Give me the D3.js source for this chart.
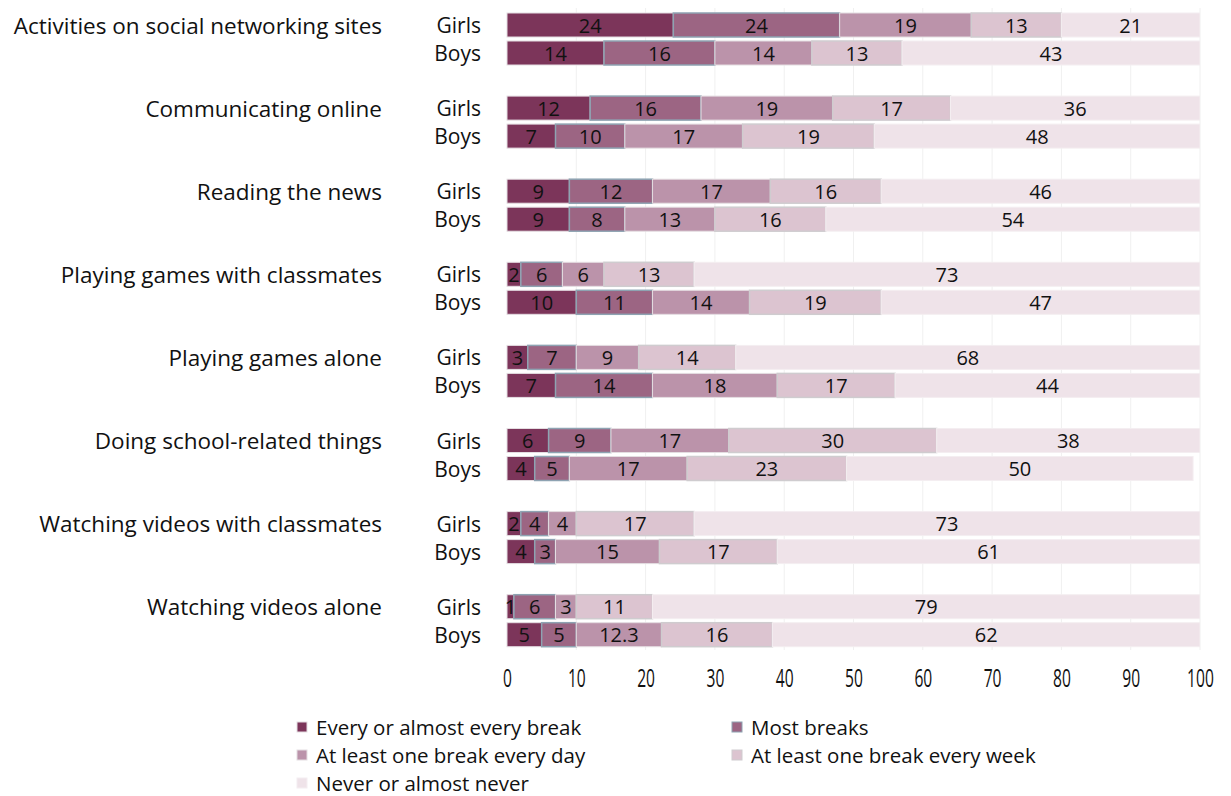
<!DOCTYPE html>
<html>
<head>
<meta charset="utf-8">
<script src="https://cdn.jsdelivr.net/npm/d3@7"></script>
<style>
  html, body { margin: 0; padding: 0; background: #fff; }
  svg { display: block; font-family: "Open Sans", "Noto Sans", sans-serif; }
</style>
</head>
<body>
<svg id="chart" width="1231" height="796"></svg>
<script>
// Activities during school breaks, share of pupils (%) by frequency
const activities = [
  "Activities on social networking sites",
  "Communicating online",
  "Reading the news",
  "Playing games with classmates",
  "Playing games alone",
  "Doing school-related things",
  "Watching videos with classmates",
  "Watching videos alone"
];
const genders = ["Girls", "Boys"];
const frequencies = [
  "Every or almost every break",
  "Most breaks",
  "At least one break every day",
  "At least one break every week",
  "Never or almost never"
];

// One array per gender, one row per activity, one value per frequency
const girlsValues = [
  [24, 24, 19, 13, 21],
  [12, 16, 19, 17, 36],
  [9, 12, 17, 16, 46],
  [2, 6, 6, 13, 73],
  [3, 7, 9, 14, 68],
  [6, 9, 17, 30, 38],
  [2, 4, 4, 17, 73],
  [1, 6, 3, 11, 79]
];
const boysValues = [
  [14, 16, 14, 13, 43],
  [7, 10, 17, 19, 48],
  [9, 8, 13, 16, 54],
  [10, 11, 14, 19, 47],
  [7, 14, 18, 17, 44],
  [4, 5, 17, 23, 50],
  [4, 3, 15, 17, 61],
  [5, 5, 12.3, 16, 62]
];
const xTicks = [0, 10, 20, 30, 40, 50, 60, 70, 80, 90, 100];

const fills   = ["#7c355a", "#9c6583", "#bb93aa", "#dcc4d0", "#efe3e9"];
const strokes = ["#e4dde1", "#8ea3b2", "#e4dde1", "#cfcccf", "#f4eef1"];
const strokeW = [1, 1.5, 1, 1.5, 1];

const svg = d3.select("#chart");

const x = d3.scaleLinear().domain([0, 100]).range([507, 1200]);
const yGroup = d3.scaleBand().domain(activities).range([13, 13 + 83.1 * 8]).padding(0);
const yGender = d3.scaleBand().domain(genders).range([0, 52]).paddingInner(4 / 28).paddingOuter(0);

// Stacked rows built from the value arrays
const rows = [];
activities.forEach((act, i) => {
  [["Girls", girlsValues[i]], ["Boys", boysValues[i]]].forEach(([g, vals]) => {
    let cum = 0;
    vals.forEach((v, k) => {
      rows.push({ act, g, k, v, x0: cum, x1: cum + v });
      cum += v;
    });
  });
});

svg.append("clipPath").attr("id", "plotClip")
  .append("rect").attr("x", x(0) - 2).attr("y", 0).attr("width", x(100) - x(0) + 2).attr("height", 700);

// Vertical gridlines
svg.append("g").selectAll("line").data(xTicks.slice(1)).join("line")
  .attr("x1", d => x(d)).attr("x2", d => x(d))
  .attr("y1", 8).attr("y2", 650)
  .attr("stroke", "#f0f0f0").attr("stroke-width", 1);

const barG = svg.append("g").attr("clip-path", "url(#plotClip)");

barG.selectAll("rect").data(rows).join("rect")
  .attr("x", d => x(d.x0))
  .attr("y", d => yGroup(d.act) + yGender(d.g))
  .attr("width", d => Math.max(0, Math.min(x(d.x1), x(100)) - x(d.x0)))
  .attr("height", yGender.bandwidth())
  .attr("fill", d => fills[d.k])
  .attr("stroke", d => strokes[d.k])
  .attr("stroke-width", d => strokeW[d.k]);

barG.selectAll("text").data(rows).join("text")
  .attr("x", d => (x(d.x0) + Math.min(x(d.x1), x(100))) / 2)
  .attr("y", d => yGroup(d.act) + yGender(d.g) + yGender.bandwidth() / 2)
  .attr("text-anchor", "middle")
  .attr("dominant-baseline", "central")
  .attr("font-size", 20)
  .attr("fill", "#111")
  .text(d => d.v);

// Activity labels
svg.append("g").selectAll("text").data(activities).join("text")
  .attr("x", 382)
  .attr("y", d => yGroup(d) + yGender("Girls") + yGender.bandwidth() / 2)
  .attr("text-anchor", "end")
  .attr("dominant-baseline", "central")
  .attr("font-size", 22.5)
  .attr("fill", "#111")
  .text(d => d);

// Gender labels
const genderLabels = [];
activities.forEach(a => genders.forEach(g => genderLabels.push({ a, g })));
svg.append("g").selectAll("text").data(genderLabels).join("text")
  .attr("x", 481)
  .attr("y", d => yGroup(d.a) + yGender(d.g) + yGender.bandwidth() / 2)
  .attr("text-anchor", "end")
  .attr("dominant-baseline", "central")
  .attr("font-size", 21)
  .attr("fill", "#111")
  .text(d => d.g);

// Bottom axis
const axis = svg.append("g")
  .attr("transform", "translate(0,673)")
  .call(d3.axisBottom(x).tickValues(xTicks).tickSize(0).tickPadding(0));
axis.select(".domain").remove();
axis.selectAll("text")
  .attr("font-family", "'Open Sans', sans-serif")
  .attr("font-size", 26)
  .attr("fill", "#111")
  .attr("dy", "0.55em")
  .attr("transform", "scale(0.6,1)");

// Legend
const legendPos = [
  [297, 727], [732, 727],
  [297, 755], [732, 755],
  [297, 783]
];
const legend = svg.append("g").selectAll("g").data(frequencies).join("g")
  .attr("transform", (d, i) => `translate(${legendPos[i][0]},${legendPos[i][1]})`);
legend.append("rect")
  .attr("x", 0).attr("y", -5).attr("width", 10).attr("height", 10)
  .attr("fill", (d, i) => fills[i])
  .attr("stroke", (d, i) => strokes[i]).attr("stroke-width", 1);
legend.append("text")
  .attr("x", 19).attr("y", 0)
  .attr("dominant-baseline", "central")
  .attr("font-size", 20.5)
  .attr("fill", "#111")
  .text(d => d);
</script>
</body>
</html>
